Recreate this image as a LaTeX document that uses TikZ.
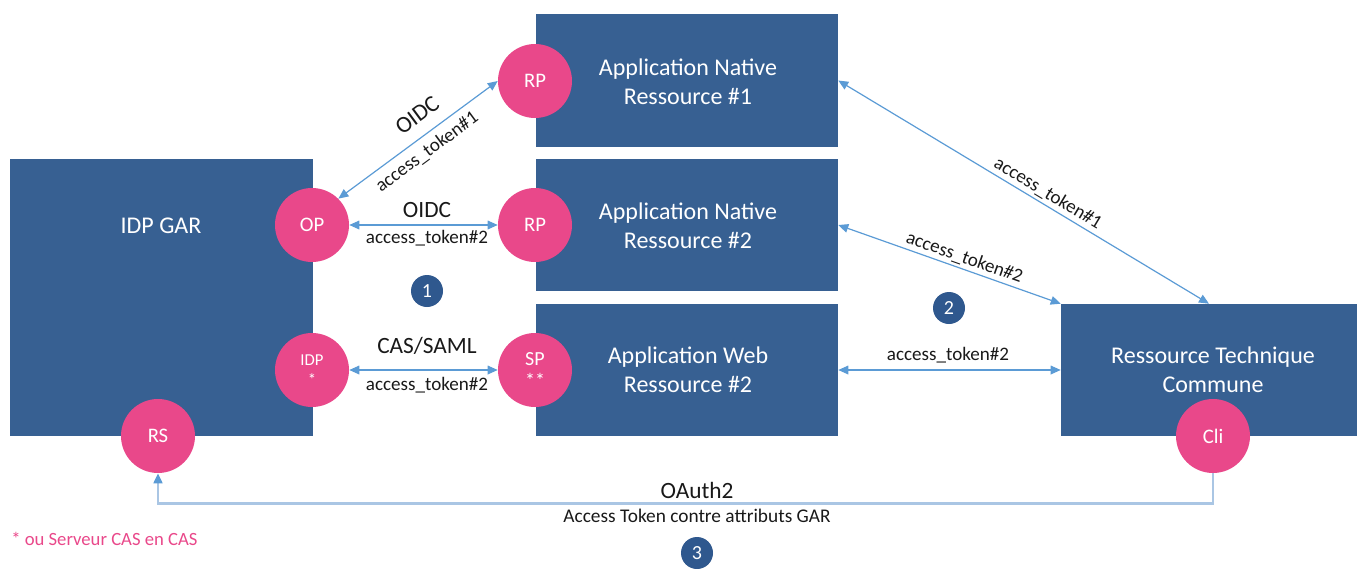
\documentclass[tikz,border=0pt]{standalone}
\usepackage{fontspec}
\setmainfont{Carlito}
\usetikzlibrary{arrows.meta}
\definecolor{boxblue}{RGB}{55,96,146}
\definecolor{badgeblue}{RGB}{47,88,142}
\definecolor{pinkc}{RGB}{233,72,138}
\definecolor{arrowc}{RGB}{91,155,213}
\definecolor{oauthc}{RGB}{170,198,228}
\definecolor{txt}{RGB}{25,25,25}
\tikzset{
  box/.style={draw=none, fill=boxblue, inner sep=0pt},
  boxtext/.style={text=white, font=\fontsize{18}{22}\selectfont, align=center},
  comp/.style={circle, fill=pinkc, draw=none, minimum size=55.5pt, inner sep=0pt, text=white, font=\fontsize{15.5}{16}\selectfont, align=center},
  badge/.style={circle, fill=badgeblue, minimum size=24pt, inner sep=0pt, text=white, font=\fontsize{15}{16}\selectfont},
  link/.style={draw=arrowc, line width=0.9pt, {Triangle[length=7.5pt,width=6.5pt]}-{Triangle[length=7.5pt,width=6.5pt]}},
  oauth/.style={draw=oauthc, line width=2.2pt, -{Triangle[length=7.5pt,width=6.5pt,color=arrowc]}},
  proto/.style={text=txt, font=\fontsize{17.5}{19}\selectfont, inner sep=1pt},
  tok/.style={text=txt, font=\fontsize{14.3}{16}\selectfont, inner sep=1pt},
}
\begin{document}
\begin{tikzpicture}[x=0.75pt, y=-0.75pt]
\useasboundingbox (0,0) rectangle (1357,568);
% boxes
\node[box, minimum width=227.25pt, minimum height=207.75pt] (idp) at (161.5,297.5) {};
\node[boxtext] (idpt) at (161,226) {IDP GAR};
\node[box, minimum width=226.5pt, minimum height=99.75pt] (an1) at (687,80.5) {};
\node[boxtext] (an1t) at (688,82) {Application Native\\Ressource \#1};
\node[box, minimum width=226.5pt, minimum height=99pt] (an2) at (687,225) {};
\node[boxtext] (an2t) at (688,226) {Application Native\\Ressource \#2};
\node[box, minimum width=226.5pt, minimum height=99pt] (web) at (687,370) {};
\node[boxtext] (webt) at (688,370) {Application Web\\Ressource \#2};
\node[box, minimum width=222pt, minimum height=99pt] (rtc) at (1209,370) {};
\node[boxtext] (rtct) at (1213,370) {Ressource Technique\\Commune};
% components
\node[comp] (rp1) at (535,81) {RP};
\node[comp] (op) at (312,225) {OP};
\node[comp] (rp2) at (535,225) {RP};
\node[comp, font=\fontsize{12.5}{15}\selectfont] (idpc) at (312,370) {IDP\\*};
\node[comp, font=\fontsize{15}{17}\selectfont] (sp) at (535,370) {SP\\**};
\node[comp] (rs) at (158,436) {RS};
\node[comp] (cli) at (1213,436) {Cli};
% badges
\node[badge] (b1) at (427,291) {1};
\node[badge] (b2) at (949,308) {2};
\node[badge] (b3) at (697,553) {3};
% links left
\draw[link] (op.45) -- (rp1.west)
  node[proto, pos=0.57, sloped, above=8pt] {OIDC}
  node[tok, pos=0.5, sloped, below=4pt] {access\_token\#1};
\draw[link] (op) -- (rp2);
\node[proto] (oidc2) at (427,210) {OIDC};
\node[tok] (tk2) at (427,238) {access\_token\#2};
\draw[link] (idpc) -- (sp);
\node[proto] (cas) at (427,346) {CAS/SAML};
\node[tok] (tk3) at (427,385) {access\_token\#2};
% links right
\draw[link] (an1.east) -- (rtc.north)
  node[tok, pos=0.55, sloped, above=1pt] {access\_token\#1};
\draw[link] (an2.east) -- (rtc.north west)
  node[tok, pos=0.55, sloped, above=1pt] {access\_token\#2};
\draw[link] (web.east |- rtc.west) -- (rtc.west);
\node[tok] (tk4) at (948,355) {access\_token\#2};
% oauth
\draw[oauth] (cli.south) -- ++(0,30) coordinate (oc) -| (rs.south);
\node[proto] (oa) at (697,490) {OAuth2};
\node[tok, font=\fontsize{14.5}{16}\selectfont] (oat) at (697,516) {Access Token contre attributs GAR};
% footnote
\node[text=pinkc, font=\fontsize{14}{16}\selectfont, anchor=west, inner sep=0pt] (fn) at (11,539) {* ou Serveur CAS en CAS};
\end{tikzpicture}
\end{document}
